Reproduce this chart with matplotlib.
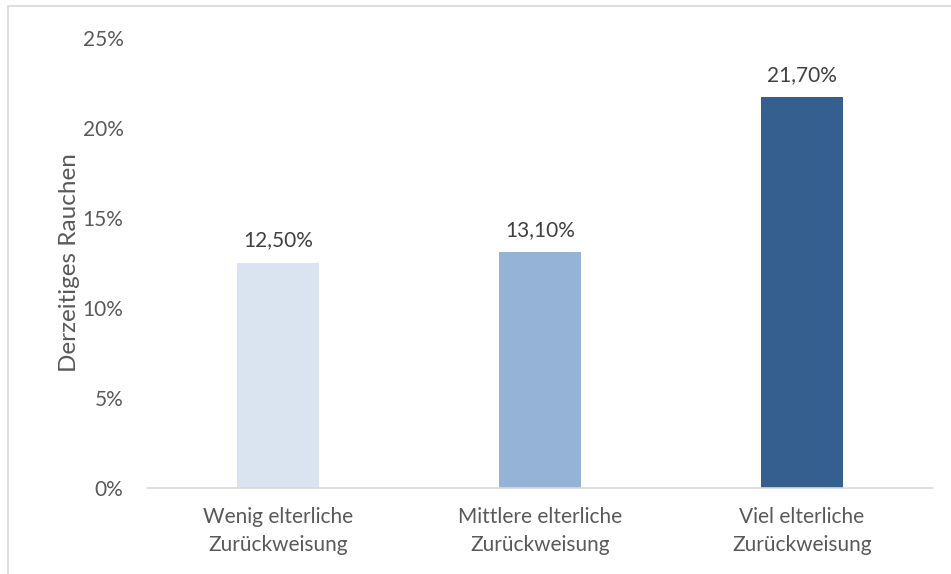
import matplotlib.pyplot as plt
from matplotlib.patches import Rectangle

categories = ['Wenig elterliche\nZurückweisung', 'Mittlere elterliche\nZurückweisung', 'Viel elterliche\nZurückweisung']
values = [12.5, 13.1, 21.7]
value_labels = ['12,50%', '13,10%', '21,70%']
colors = ['#DAE3F0', '#95B3D7', '#355F8F']
yticks = [0, 5, 10, 15, 20, 25]

plt.rcParams['font.family'] = ['Lato', 'DejaVu Sans']
text_color = '#595959'

fig = plt.figure(figsize=(9.51, 5.74), dpi=100)
ax = fig.add_axes([147 / 951, 1 - 488 / 574, (933 - 147) / 951, (488 - 38) / 574])

x = range(len(categories))
ax.bar(x, values, width=0.313, color=colors, zorder=2)
for i, (v, lab) in enumerate(zip(values, value_labels)):
    ax.annotate(lab, (i, v), xytext=(0, 9), textcoords='offset points',
                ha='center', va='bottom', fontsize=15, color='#404040')

ax.set_xlim(-0.5, 2.5)
ax.set_ylim(0, 25)
ax.set_yticks(yticks)
ax.set_yticklabels([f'{t}%' for t in yticks])
ax.set_xticks(list(x))
ax.set_xticklabels(categories, linespacing=1.5)
ax.tick_params(axis='both', length=0, colors=text_color, labelsize=15)
ax.tick_params(axis='x', pad=14)
ax.tick_params(axis='y', pad=17)
ax.set_ylabel('Derzeitiges Rauchen', fontsize=17.5, color=text_color, labelpad=2)

for side in ['top', 'right', 'left']:
    ax.spines[side].set_visible(False)
ax.spines['bottom'].set_color('#D9D9D9')
ax.spines['bottom'].set_linewidth(1.2)

# chart frame
fig.patches.append(Rectangle((8 / 951, -0.1), 1.1, 1 - 6 / 574 + 0.1,
                             transform=fig.transFigure, fill=False,
                             edgecolor='#D9D9D9', linewidth=1.2))

fig.savefig('out.png', dpi=100)
